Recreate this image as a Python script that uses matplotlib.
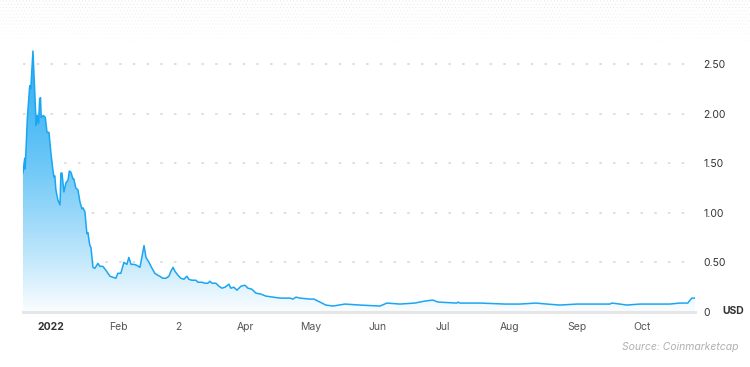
import numpy as np
import pandas as pd
import matplotlib
matplotlib.use("Agg")
import matplotlib.pyplot as plt
from matplotlib.colors import LinearSegmentedColormap

plt.rcParams['font.family'] = ['Inter', 'DejaVu Sans']

# dias desde 1 jan 2022 e preço em USD
dias = [-12.9, -12.1, -11.9, -10.9, -9.8, -9.3, -8.3, -6.8, -6.3, -5.7, -5.2, -4.8, -4.5,
        -3.5, -2.6, -1.8, -0.9, 0.0, 0.9, 1.4, 1.8, 2.3, 3.2, 4.2, 4.6, 5.1, 6.0, 6.9, 7.9,
        8.5, 9.2, 10.2, 10.6, 11.5, 12.5, 13.4, 14.3, 14.8, 15.7, 16.6, 17.1, 17.6, 18.0,
        18.5, 19.4, 20.3, 21.7, 22.6, 24.0, 25.4, 27.3, 28.6, 30.0, 30.9, 32.3, 33.7, 35.1,
        36.0, 37.0, 38.3, 39.7, 41.1, 42.0, 43.0, 43.9, 45.3, 46.7, 48.0, 49.4, 50.3, 51.7,
        53.1, 54.5, 55.4, 56.4, 57.3, 58.7, 60.0, 61.4, 62.8, 63.7, 65.1, 67.0, 67.9, 69.7,
        71.1, 72.5, 73.4, 74.4, 76.2, 77.6, 79.0, 80.4, 82.2, 83.1, 84.5, 85.9, 87.8, 89.6,
        91.0, 92.8, 94.7, 97.0, 99.3, 102.5, 105.8, 110.4, 111.8, 113.2, 115.0, 119.6, 121.5,
        124.2, 127.0, 130.3, 135.8, 142.7, 152.0, 155.2, 161.2, 168.1, 170.4, 172.7, 176.4,
        178.8, 187.5, 188.0, 188.9, 198.2, 209.7, 216.6, 224.0, 229.1, 235.1, 243.0, 258.2,
        259.1, 262.8, 266.0, 272.0, 285.9, 290.5, 294.2, 295.2, 296.1, 297.5]
preco = [1.40, 1.55, 1.44, 1.95, 2.28, 2.25, 2.63, 1.88, 1.98, 1.90, 2.15, 2.16, 1.96,
         1.98, 1.96, 1.81, 1.81, 1.60, 1.43, 1.36, 1.37, 1.23, 1.13, 1.08, 1.40, 1.40, 1.21,
         1.30, 1.33, 1.42, 1.41, 1.34, 1.34, 1.25, 1.23, 1.11, 1.04, 1.05, 1.01, 0.79, 0.80,
         0.72, 0.67, 0.65, 0.45, 0.44, 0.49, 0.46, 0.46, 0.42, 0.36, 0.35, 0.34, 0.39, 0.39,
         0.50, 0.48, 0.55, 0.48, 0.48, 0.47, 0.45, 0.55, 0.67, 0.55, 0.50, 0.44, 0.39, 0.37,
         0.36, 0.34, 0.34, 0.36, 0.41, 0.45, 0.41, 0.37, 0.34, 0.33, 0.36, 0.33, 0.32, 0.32,
         0.30, 0.30, 0.29, 0.29, 0.31, 0.29, 0.29, 0.26, 0.24, 0.25, 0.28, 0.24, 0.25, 0.22,
         0.26, 0.27, 0.24, 0.23, 0.19, 0.18, 0.16, 0.15, 0.14, 0.14, 0.13, 0.15, 0.14, 0.13,
         0.13, 0.10, 0.07, 0.06, 0.08, 0.07, 0.06, 0.09, 0.08, 0.09, 0.10, 0.11, 0.12, 0.10,
         0.09, 0.10, 0.09, 0.09, 0.08, 0.08, 0.09, 0.08, 0.07, 0.08, 0.08, 0.09, 0.08, 0.07,
         0.08, 0.08, 0.09, 0.09, 0.12, 0.14, 0.14]

meses = pd.date_range('2022-01-01', periods=10, freq='MS')
rotulos_x = ['2022', 'Feb', '2', 'Apr', 'May', 'Jun', 'Jul', 'Aug', 'Sep', 'Oct']
valores_y = [0, 0.5, 1.0, 1.5, 2.0, 2.5]
rotulos_y = ['0', '0.50', '1.00', '1.50', '2.00', '2.50']

x = np.array(dias)
y = np.array(preco)
ymax = 2.66

fig = plt.figure(figsize=(7.5, 3.67), dpi=100)

# fundo pontilhado no topo
bg = fig.add_axes([0, 0, 1, 1])
bg.set_xlim(0, 750)
bg.set_ylim(367, 0)
bg.axis('off')
gx, gy = np.meshgrid(np.arange(0, 752, 3.3), np.arange(1, 48, 3.3))
gx[1::2] += 1.65
alpha = np.clip(1 - gy / 48, 0, 1) * 0.55
cores = np.zeros((gx.size, 4))
cores[:, :3] = 0.78
cores[:, 3] = alpha.ravel()
bg.scatter(gx.ravel(), gy.ravel(), s=0.6, c=cores, linewidths=0)

ax = fig.add_axes([23 / 750, 55 / 367, 672 / 750, 264 / 367])
ax.set_xlim(x[0], x[-1])
ax.set_ylim(0, ymax)

for v in valores_y[1:]:
    ax.axhline(v, color='#dcdcdc', lw=1.3, ls=(0, (1.4, 6.2)), zorder=0)

# preenchimento em gradiente
cmap = LinearSegmentedColormap.from_list('grad', [
    (0.0, '#fbfdff'), (0.19, '#c5e9fc'), (0.376, '#97d7f9'),
    (0.564, '#6cc7f7'), (0.752, '#4cbaf5'), (1.0, '#38b0f3')])
grad = np.linspace(0, 1, 256).reshape(-1, 1)
poly = ax.fill_between(x, y, 0, color='none', lw=0)
img = ax.imshow(grad, cmap=cmap, aspect='auto', origin='lower',
                extent=[x[0], x[-1], 0, ymax], zorder=1)
img.set_clip_path(poly.get_paths()[0], transform=ax.transData)
ax.plot(x, y, color='#1aa6f2', lw=1.1, zorder=2)

for s in ['top', 'left', 'right']:
    ax.spines[s].set_visible(False)
ax.spines['bottom'].set_color('#e6e6e6')
ax.spines['bottom'].set_linewidth(2.2)

ax.set_xticks([(m - pd.Timestamp('2022-01-01')).days for m in meses])
ax.set_xticklabels(rotulos_x, fontsize=7.5, color='#555555')
ax.get_xticklabels()[0].set_fontweight('bold')
ax.get_xticklabels()[0].set_color('#333333')
ax.tick_params(axis='x', length=0, pad=7)

ax.yaxis.tick_right()
ax.set_yticks(valores_y)
ax.set_yticklabels(rotulos_y, fontsize=7.5, color='#333333')
ax.tick_params(axis='y', length=0, pad=6)

fig.text(722 / 750, 1 - 311 / 367, 'USD', fontsize=7.5, fontweight='bold',
         color='#333333', va='center', ha='left')
fig.text(738 / 750, 1 - 347 / 367, 'Source: Coinmarketcap', fontsize=7.5,
         style='italic', color='#b0b0b0', ha='right', va='center')

fig.savefig('out.png', dpi=100)
